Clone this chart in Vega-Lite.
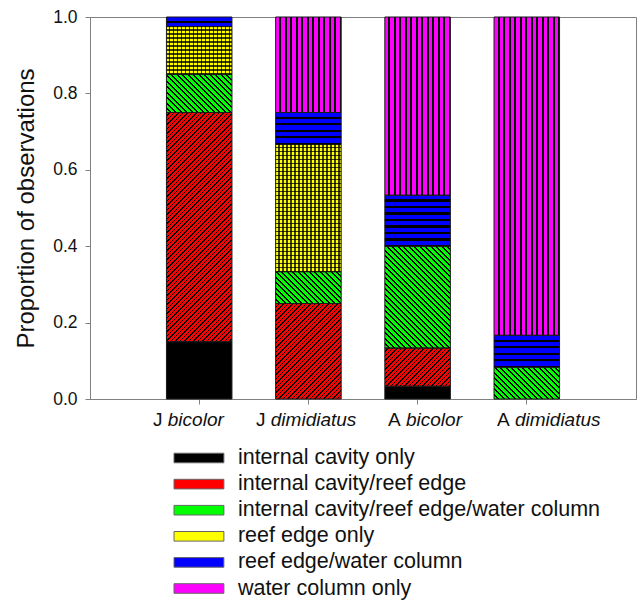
{
  "$schema": "https://vega.github.io/schema/vega-lite/v6.json",
  "width": 546,
  "height": 382,
  "autosize": {"type": "none"},
  "padding": {"left": 90, "top": 17, "right": 2, "bottom": 201},
  "params": [
    {"name": "hatch", "value": [
      {"offset":0,"color":"transparent"},{"offset":0.008,"color":"transparent"},{"offset":0.008,"color":"#000"},{"offset":0.0125,"color":"#000"},
      {"offset":0.0125,"color":"transparent"},{"offset":0.0205,"color":"transparent"},{"offset":0.0205,"color":"#000"},{"offset":0.025,"color":"#000"},
      {"offset":0.025,"color":"transparent"},{"offset":0.033,"color":"transparent"},{"offset":0.033,"color":"#000"},{"offset":0.0375,"color":"#000"},
      {"offset":0.0375,"color":"transparent"},{"offset":0.0455,"color":"transparent"},{"offset":0.0455,"color":"#000"},{"offset":0.05,"color":"#000"},
      {"offset":0.05,"color":"transparent"},{"offset":0.058,"color":"transparent"},{"offset":0.058,"color":"#000"},{"offset":0.0625,"color":"#000"},
      {"offset":0.0625,"color":"transparent"},{"offset":0.0705,"color":"transparent"},{"offset":0.0705,"color":"#000"},{"offset":0.075,"color":"#000"},
      {"offset":0.075,"color":"transparent"},{"offset":0.083,"color":"transparent"},{"offset":0.083,"color":"#000"},{"offset":0.0875,"color":"#000"},
      {"offset":0.0875,"color":"transparent"},{"offset":0.0955,"color":"transparent"},{"offset":0.0955,"color":"#000"},{"offset":0.1,"color":"#000"},
      {"offset":0.1,"color":"transparent"},{"offset":0.108,"color":"transparent"},{"offset":0.108,"color":"#000"},{"offset":0.1125,"color":"#000"},
      {"offset":0.1125,"color":"transparent"},{"offset":0.1205,"color":"transparent"},{"offset":0.1205,"color":"#000"},{"offset":0.125,"color":"#000"},
      {"offset":0.125,"color":"transparent"},{"offset":0.133,"color":"transparent"},{"offset":0.133,"color":"#000"},{"offset":0.1375,"color":"#000"},
      {"offset":0.1375,"color":"transparent"},{"offset":0.1455,"color":"transparent"},{"offset":0.1455,"color":"#000"},{"offset":0.15,"color":"#000"},
      {"offset":0.15,"color":"transparent"},{"offset":0.158,"color":"transparent"},{"offset":0.158,"color":"#000"},{"offset":0.1625,"color":"#000"},
      {"offset":0.1625,"color":"transparent"},{"offset":0.1705,"color":"transparent"},{"offset":0.1705,"color":"#000"},{"offset":0.175,"color":"#000"},
      {"offset":0.175,"color":"transparent"},{"offset":0.183,"color":"transparent"},{"offset":0.183,"color":"#000"},{"offset":0.1875,"color":"#000"},
      {"offset":0.1875,"color":"transparent"},{"offset":0.1955,"color":"transparent"},{"offset":0.1955,"color":"#000"},{"offset":0.2,"color":"#000"},
      {"offset":0.2,"color":"transparent"},{"offset":0.208,"color":"transparent"},{"offset":0.208,"color":"#000"},{"offset":0.2125,"color":"#000"},
      {"offset":0.2125,"color":"transparent"},{"offset":0.2205,"color":"transparent"},{"offset":0.2205,"color":"#000"},{"offset":0.225,"color":"#000"},
      {"offset":0.225,"color":"transparent"},{"offset":0.233,"color":"transparent"},{"offset":0.233,"color":"#000"},{"offset":0.2375,"color":"#000"},
      {"offset":0.2375,"color":"transparent"},{"offset":0.2455,"color":"transparent"},{"offset":0.2455,"color":"#000"},{"offset":0.25,"color":"#000"},
      {"offset":0.25,"color":"transparent"},{"offset":0.258,"color":"transparent"},{"offset":0.258,"color":"#000"},{"offset":0.2625,"color":"#000"},
      {"offset":0.2625,"color":"transparent"},{"offset":0.2705,"color":"transparent"},{"offset":0.2705,"color":"#000"},{"offset":0.275,"color":"#000"},
      {"offset":0.275,"color":"transparent"},{"offset":0.283,"color":"transparent"},{"offset":0.283,"color":"#000"},{"offset":0.2875,"color":"#000"},
      {"offset":0.2875,"color":"transparent"},{"offset":0.2955,"color":"transparent"},{"offset":0.2955,"color":"#000"},{"offset":0.3,"color":"#000"},
      {"offset":0.3,"color":"transparent"},{"offset":0.308,"color":"transparent"},{"offset":0.308,"color":"#000"},{"offset":0.3125,"color":"#000"},
      {"offset":0.3125,"color":"transparent"},{"offset":0.3205,"color":"transparent"},{"offset":0.3205,"color":"#000"},{"offset":0.325,"color":"#000"},
      {"offset":0.325,"color":"transparent"},{"offset":0.333,"color":"transparent"},{"offset":0.333,"color":"#000"},{"offset":0.3375,"color":"#000"},
      {"offset":0.3375,"color":"transparent"},{"offset":0.3455,"color":"transparent"},{"offset":0.3455,"color":"#000"},{"offset":0.35,"color":"#000"},
      {"offset":0.35,"color":"transparent"},{"offset":0.358,"color":"transparent"},{"offset":0.358,"color":"#000"},{"offset":0.3625,"color":"#000"},
      {"offset":0.3625,"color":"transparent"},{"offset":0.3705,"color":"transparent"},{"offset":0.3705,"color":"#000"},{"offset":0.375,"color":"#000"},
      {"offset":0.375,"color":"transparent"},{"offset":0.383,"color":"transparent"},{"offset":0.383,"color":"#000"},{"offset":0.3875,"color":"#000"},
      {"offset":0.3875,"color":"transparent"},{"offset":0.3955,"color":"transparent"},{"offset":0.3955,"color":"#000"},{"offset":0.4,"color":"#000"},
      {"offset":0.4,"color":"transparent"},{"offset":0.408,"color":"transparent"},{"offset":0.408,"color":"#000"},{"offset":0.4125,"color":"#000"},
      {"offset":0.4125,"color":"transparent"},{"offset":0.4205,"color":"transparent"},{"offset":0.4205,"color":"#000"},{"offset":0.425,"color":"#000"},
      {"offset":0.425,"color":"transparent"},{"offset":0.433,"color":"transparent"},{"offset":0.433,"color":"#000"},{"offset":0.4375,"color":"#000"},
      {"offset":0.4375,"color":"transparent"},{"offset":0.4455,"color":"transparent"},{"offset":0.4455,"color":"#000"},{"offset":0.45,"color":"#000"},
      {"offset":0.45,"color":"transparent"},{"offset":0.458,"color":"transparent"},{"offset":0.458,"color":"#000"},{"offset":0.4625,"color":"#000"},
      {"offset":0.4625,"color":"transparent"},{"offset":0.4705,"color":"transparent"},{"offset":0.4705,"color":"#000"},{"offset":0.475,"color":"#000"},
      {"offset":0.475,"color":"transparent"},{"offset":0.483,"color":"transparent"},{"offset":0.483,"color":"#000"},{"offset":0.4875,"color":"#000"},
      {"offset":0.4875,"color":"transparent"},{"offset":0.4955,"color":"transparent"},{"offset":0.4955,"color":"#000"},{"offset":0.5,"color":"#000"},
      {"offset":0.5,"color":"transparent"},{"offset":0.508,"color":"transparent"},{"offset":0.508,"color":"#000"},{"offset":0.5125,"color":"#000"},
      {"offset":0.5125,"color":"transparent"},{"offset":0.5205,"color":"transparent"},{"offset":0.5205,"color":"#000"},{"offset":0.525,"color":"#000"},
      {"offset":0.525,"color":"transparent"},{"offset":0.533,"color":"transparent"},{"offset":0.533,"color":"#000"},{"offset":0.5375,"color":"#000"},
      {"offset":0.5375,"color":"transparent"},{"offset":0.5455,"color":"transparent"},{"offset":0.5455,"color":"#000"},{"offset":0.55,"color":"#000"},
      {"offset":0.55,"color":"transparent"},{"offset":0.558,"color":"transparent"},{"offset":0.558,"color":"#000"},{"offset":0.5625,"color":"#000"},
      {"offset":0.5625,"color":"transparent"},{"offset":0.5705,"color":"transparent"},{"offset":0.5705,"color":"#000"},{"offset":0.575,"color":"#000"},
      {"offset":0.575,"color":"transparent"},{"offset":0.583,"color":"transparent"},{"offset":0.583,"color":"#000"},{"offset":0.5875,"color":"#000"},
      {"offset":0.5875,"color":"transparent"},{"offset":0.5955,"color":"transparent"},{"offset":0.5955,"color":"#000"},{"offset":0.6,"color":"#000"},
      {"offset":0.6,"color":"transparent"},{"offset":0.608,"color":"transparent"},{"offset":0.608,"color":"#000"},{"offset":0.6125,"color":"#000"},
      {"offset":0.6125,"color":"transparent"},{"offset":0.6205,"color":"transparent"},{"offset":0.6205,"color":"#000"},{"offset":0.625,"color":"#000"},
      {"offset":0.625,"color":"transparent"},{"offset":0.633,"color":"transparent"},{"offset":0.633,"color":"#000"},{"offset":0.6375,"color":"#000"},
      {"offset":0.6375,"color":"transparent"},{"offset":0.6455,"color":"transparent"},{"offset":0.6455,"color":"#000"},{"offset":0.65,"color":"#000"},
      {"offset":0.65,"color":"transparent"},{"offset":0.658,"color":"transparent"},{"offset":0.658,"color":"#000"},{"offset":0.6625,"color":"#000"},
      {"offset":0.6625,"color":"transparent"},{"offset":0.6705,"color":"transparent"},{"offset":0.6705,"color":"#000"},{"offset":0.675,"color":"#000"},
      {"offset":0.675,"color":"transparent"},{"offset":0.683,"color":"transparent"},{"offset":0.683,"color":"#000"},{"offset":0.6875,"color":"#000"},
      {"offset":0.6875,"color":"transparent"},{"offset":0.6955,"color":"transparent"},{"offset":0.6955,"color":"#000"},{"offset":0.7,"color":"#000"},
      {"offset":0.7,"color":"transparent"},{"offset":0.708,"color":"transparent"},{"offset":0.708,"color":"#000"},{"offset":0.7125,"color":"#000"},
      {"offset":0.7125,"color":"transparent"},{"offset":0.7205,"color":"transparent"},{"offset":0.7205,"color":"#000"},{"offset":0.725,"color":"#000"},
      {"offset":0.725,"color":"transparent"},{"offset":0.733,"color":"transparent"},{"offset":0.733,"color":"#000"},{"offset":0.7375,"color":"#000"},
      {"offset":0.7375,"color":"transparent"},{"offset":0.7455,"color":"transparent"},{"offset":0.7455,"color":"#000"},{"offset":0.75,"color":"#000"},
      {"offset":0.75,"color":"transparent"},{"offset":0.758,"color":"transparent"},{"offset":0.758,"color":"#000"},{"offset":0.7625,"color":"#000"},
      {"offset":0.7625,"color":"transparent"},{"offset":0.7705,"color":"transparent"},{"offset":0.7705,"color":"#000"},{"offset":0.775,"color":"#000"},
      {"offset":0.775,"color":"transparent"},{"offset":0.783,"color":"transparent"},{"offset":0.783,"color":"#000"},{"offset":0.7875,"color":"#000"},
      {"offset":0.7875,"color":"transparent"},{"offset":0.7955,"color":"transparent"},{"offset":0.7955,"color":"#000"},{"offset":0.8,"color":"#000"},
      {"offset":0.8,"color":"transparent"},{"offset":0.808,"color":"transparent"},{"offset":0.808,"color":"#000"},{"offset":0.8125,"color":"#000"},
      {"offset":0.8125,"color":"transparent"},{"offset":0.8205,"color":"transparent"},{"offset":0.8205,"color":"#000"},{"offset":0.825,"color":"#000"},
      {"offset":0.825,"color":"transparent"},{"offset":0.833,"color":"transparent"},{"offset":0.833,"color":"#000"},{"offset":0.8375,"color":"#000"},
      {"offset":0.8375,"color":"transparent"},{"offset":0.8455,"color":"transparent"},{"offset":0.8455,"color":"#000"},{"offset":0.85,"color":"#000"},
      {"offset":0.85,"color":"transparent"},{"offset":0.858,"color":"transparent"},{"offset":0.858,"color":"#000"},{"offset":0.8625,"color":"#000"},
      {"offset":0.8625,"color":"transparent"},{"offset":0.8705,"color":"transparent"},{"offset":0.8705,"color":"#000"},{"offset":0.875,"color":"#000"},
      {"offset":0.875,"color":"transparent"},{"offset":0.883,"color":"transparent"},{"offset":0.883,"color":"#000"},{"offset":0.8875,"color":"#000"},
      {"offset":0.8875,"color":"transparent"},{"offset":0.8955,"color":"transparent"},{"offset":0.8955,"color":"#000"},{"offset":0.9,"color":"#000"},
      {"offset":0.9,"color":"transparent"},{"offset":0.908,"color":"transparent"},{"offset":0.908,"color":"#000"},{"offset":0.9125,"color":"#000"},
      {"offset":0.9125,"color":"transparent"},{"offset":0.9205,"color":"transparent"},{"offset":0.9205,"color":"#000"},{"offset":0.925,"color":"#000"},
      {"offset":0.925,"color":"transparent"},{"offset":0.933,"color":"transparent"},{"offset":0.933,"color":"#000"},{"offset":0.9375,"color":"#000"},
      {"offset":0.9375,"color":"transparent"},{"offset":0.9455,"color":"transparent"},{"offset":0.9455,"color":"#000"},{"offset":0.95,"color":"#000"},
      {"offset":0.95,"color":"transparent"},{"offset":0.958,"color":"transparent"},{"offset":0.958,"color":"#000"},{"offset":0.9625,"color":"#000"},
      {"offset":0.9625,"color":"transparent"},{"offset":0.9705,"color":"transparent"},{"offset":0.9705,"color":"#000"},{"offset":0.975,"color":"#000"},
      {"offset":0.975,"color":"transparent"},{"offset":0.983,"color":"transparent"},{"offset":0.983,"color":"#000"},{"offset":0.9875,"color":"#000"},
      {"offset":0.9875,"color":"transparent"},{"offset":0.9955,"color":"transparent"},{"offset":0.9955,"color":"#000"},{"offset":1,"color":"#000"}
    ]}
  ],
  "data": {"values": [
    {"group": "J bicolor", "cat": "internal cavity only", "ord": 1, "value": 0.15},
    {"group": "J bicolor", "cat": "internal cavity/reef edge", "ord": 2, "value": 0.60},
    {"group": "J bicolor", "cat": "internal cavity/reef edge/water column", "ord": 3, "value": 0.10},
    {"group": "J bicolor", "cat": "reef edge only", "ord": 4, "value": 0.125},
    {"group": "J bicolor", "cat": "reef edge/water column", "ord": 5, "value": 0.025},
    {"group": "J dimidiatus", "cat": "internal cavity/reef edge", "ord": 2, "value": 0.25},
    {"group": "J dimidiatus", "cat": "internal cavity/reef edge/water column", "ord": 3, "value": 0.0833},
    {"group": "J dimidiatus", "cat": "reef edge only", "ord": 4, "value": 0.3334},
    {"group": "J dimidiatus", "cat": "reef edge/water column", "ord": 5, "value": 0.0833},
    {"group": "J dimidiatus", "cat": "water column only", "ord": 6, "value": 0.25},
    {"group": "A bicolor", "cat": "internal cavity only", "ord": 1, "value": 0.0333},
    {"group": "A bicolor", "cat": "internal cavity/reef edge", "ord": 2, "value": 0.1},
    {"group": "A bicolor", "cat": "internal cavity/reef edge/water column", "ord": 3, "value": 0.2667},
    {"group": "A bicolor", "cat": "reef edge/water column", "ord": 5, "value": 0.1333},
    {"group": "A bicolor", "cat": "water column only", "ord": 6, "value": 0.4667},
    {"group": "A dimidiatus", "cat": "internal cavity/reef edge/water column", "ord": 3, "value": 0.0833},
    {"group": "A dimidiatus", "cat": "reef edge/water column", "ord": 5, "value": 0.0833},
    {"group": "A dimidiatus", "cat": "water column only", "ord": 6, "value": 0.8334}
  ]},
  "transform": [
    {"stack": "value", "groupby": ["group"], "sort": [{"field": "ord", "order": "ascending"}], "as": ["y0", "y1"]}
  ],
  "encoding": {
    "y": {
      "field": "y0", "type": "quantitative",
      "scale": {"domain": [0, 1], "nice": false, "zero": true},
      "axis": {
        "values": [0, 0.2, 0.4, 0.6, 0.8, 1.0], "format": ".1f",
        "labelFontSize": 17.5, "labelPadding": 8, "tickSize": 5, "labelFlush": false,
        "title": "Proportion of observations", "titleFontSize": 24, "titleFontWeight": "normal", "titlePadding": 14
      }
    },
    "y2": {"field": "y1"}
  },
  "layer": [
    {
      "mark": {"type": "bar", "strokeWidth": 0},
      "encoding": {
        "x": {
          "field": "group", "type": "nominal",
          "sort": ["J bicolor", "J dimidiatus", "A bicolor", "A dimidiatus"],
          "scale": {"paddingInner": 0.4, "paddingOuter": 0.7},
          "axis": {
            "orient": "bottom", "title": null, "labelAngle": 0,
            "labelExpr": "split(datum.value, ' ')[0]",
            "labelAlign": "right", "labelBaseline": "alphabetic",
            "labelFontSize": 19, "labelPadding": 21.7, "tickSize": 5,
            "labelOverlap": false, "labelBound": false, "labelFlush": false,
            "labelOffset": {"condition": [
              {"test": "datum.value === 'J bicolor'", "value": -36.7},
              {"test": "datum.value === 'J dimidiatus'", "value": -42.9},
              {"test": "datum.value === 'A bicolor'", "value": -16.9}
            ], "value": -17.1}
          }
        },
        "color": {
          "field": "cat", "type": "nominal",
          "scale": {
            "domain": ["internal cavity only", "internal cavity/reef edge", "internal cavity/reef edge/water column", "reef edge only", "reef edge/water column", "water column only"],
            "range": ["#000000", "#ff0000", "#00ff00", "#ffff00", "#0000ff", "#ff00ff"]
          },
          "legend": {
            "orient": "none", "legendX": 98.2, "legendY": 430.25, "title": null,
            "symbolType": "M-5.2,-1H5.2V1H-5.2Z", "symbolSize": 92,
            "symbolStrokeColor": "#666666", "symbolStrokeWidth": 1, "symbolOpacity": 1,
            "labelFontSize": 21.5, "labelColor": "#111111", "labelOffset": 28.2,
            "rowPadding": 3.1, "labelLimit": 600, "padding": 0
          }
        }
      }
    },
    {
      "mark": {"type": "bar", "stroke": "#1a1a1a", "strokeWidth": 1},
      "encoding": {
        "x": {
          "field": "group", "type": "nominal",
          "sort": ["J bicolor", "J dimidiatus", "A bicolor", "A dimidiatus"],
          "scale": {"paddingInner": 0.4, "paddingOuter": 0.7},
          "axis": {
            "orient": "bottom", "title": null, "labelAngle": 0, "domain": false,
            "tickColor": "transparent",
            "labelExpr": "split(datum.value, ' ')[1]",
            "labelAlign": "left", "labelBaseline": "alphabetic", "labelFontStyle": "italic",
            "labelFontSize": 19, "labelPadding": 21.7, "tickSize": 5,
            "labelOverlap": false, "labelBound": false, "labelFlush": false,
            "labelOffset": {"condition": [
              {"test": "datum.value === 'J bicolor'", "value": -31.4},
              {"test": "datum.value === 'J dimidiatus'", "value": -37.6},
              {"test": "datum.value === 'A bicolor'", "value": -11.6}
            ], "value": -11.8}
          }
        },
        "fill": {"value": {"expr": "datum.cat === 'internal cavity/reef edge' ? {gradient: 'linear', x1: 0, y1: 0, x2: 360 * bandwidth('x') / (pow(bandwidth('x'), 2) + pow(scale('y', datum.y0) - scale('y', datum.y1), 2)), y2: 360 * (scale('y', datum.y0) - scale('y', datum.y1)) / (pow(bandwidth('x'), 2) + pow(scale('y', datum.y0) - scale('y', datum.y1), 2)), stops: hatch} : datum.cat === 'internal cavity/reef edge/water column' ? {gradient: 'linear', x1: 0, y1: 1, x2: 440 * bandwidth('x') / (pow(bandwidth('x'), 2) + pow(scale('y', datum.y0) - scale('y', datum.y1), 2)), y2: 1 - 440 * (scale('y', datum.y0) - scale('y', datum.y1)) / (pow(bandwidth('x'), 2) + pow(scale('y', datum.y0) - scale('y', datum.y1), 2)), stops: hatch} : datum.cat === 'reef edge only' ? {gradient: 'linear', x1: 0, y1: 0, x2: 0, y2: 320 / (scale('y', datum.y0) - scale('y', datum.y1)), stops: hatch} : datum.cat === 'reef edge/water column' ? {gradient: 'linear', x1: 0, y1: 0, x2: 0, y2: 520 / (scale('y', datum.y0) - scale('y', datum.y1)), stops: hatch} : datum.cat === 'water column only' ? {gradient: 'linear', x1: 0, y1: 0, x2: 440 / bandwidth('x'), y2: 0, stops: hatch} : 'transparent'"}},
        "fillOpacity": {"condition": {"test": "datum.cat === 'reef edge only'", "value": 0.75}, "value": 1}
      }
    },
    {
      "transform": [{"filter": "datum.cat === 'reef edge only'"}],
      "mark": {"type": "bar", "strokeWidth": 0},
      "encoding": {
        "x": {
          "field": "group", "type": "nominal",
          "sort": ["J bicolor", "J dimidiatus", "A bicolor", "A dimidiatus"],
          "scale": {"paddingInner": 0.4, "paddingOuter": 0.7},
          "axis": null
        },
        "fill": {"value": {"expr": "{gradient: 'linear', x1: 0, y1: 0, x2: 320 / bandwidth('x'), y2: 0, stops: hatch}"}},
        "fillOpacity": {"value": 0.75}
      }
    }
  ],
  "resolve": {"axis": {"x": "independent"}},
  "config": {
    "font": "Liberation Sans",
    "view": {"stroke": "#808080", "strokeWidth": 1},
    "axis": {
      "domainColor": "#808080", "tickColor": "#808080", "grid": false,
      "labelColor": "#111111", "titleColor": "#111111",
      "labelFont": "Liberation Sans", "titleFont": "Liberation Sans"
    },
    "legend": {"labelFont": "Liberation Sans"}
  }
}
